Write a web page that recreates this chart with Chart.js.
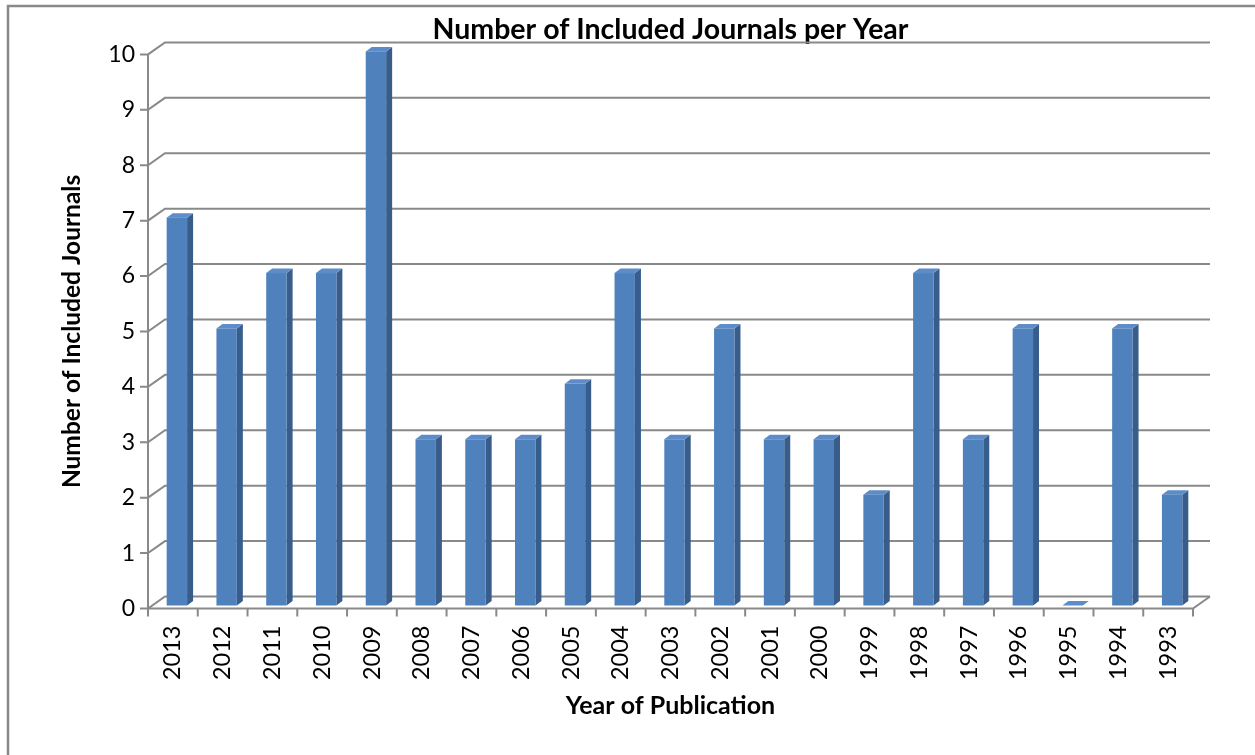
<!DOCTYPE html>
<html>
<head>
<meta charset="utf-8">
<script src="https://cdn.jsdelivr.net/npm/chart.js@4.4.1/dist/chart.umd.min.js"></script>
<style>
  html, body { margin: 0; padding: 0; background: #ffffff; }
  #wrap { width: 1255px; height: 755px; position: relative; }
</style>
</head>
<body>
<div id="wrap"><canvas id="chart"></canvas></div>
<script>
// Journals included per publication year (newest first)
const years = ['2013','2012','2011','2010','2009','2008','2007','2006','2005','2004','2003',
               '2002','2001','2000','1999','1998','1997','1996','1995','1994','1993'];
const journalCounts = [7, 5, 6, 6, 10, 3, 3, 3, 4, 6, 3, 5, 3, 3, 2, 6, 3, 5, 0, 5, 2];
const yTicks = [0, 1, 2, 3, 4, 5, 6, 7, 8, 9, 10];

const FONT = 'Lato, "Open Sans", sans-serif';
const GRID = '#898989';
// depth of the back wall relative to the front plane
const WALL_DX = 17, WALL_DY = 12;
// column placement inside the box and column depth
const COL_DX = 4, COL_DY = 3, COL_DEPTH_X = 6, COL_DEPTH_Y = 4.5;

// Outer frame, back wall gridlines, floor and axis ticks
const wallPlugin = {
  id: 'wall',
  beforeDraw(chart) {
    const ctx = chart.ctx;
    ctx.save();
    ctx.strokeStyle = GRID;
    ctx.lineWidth = 2.5;
    ctx.beginPath();
    ctx.moveTo(8, 755);
    ctx.lineTo(8, 6);
    ctx.lineTo(1255, 6);
    ctx.stroke();
    ctx.restore();
  },
  beforeDatasetsDraw(chart) {
    const ctx = chart.ctx;
    const {left, right} = chart.chartArea;
    const ys = chart.scales.y;
    ctx.save();
    ctx.strokeStyle = GRID;
    ctx.lineWidth = 2;
    ctx.lineJoin = 'miter';
    yTicks.forEach(v => {
      const y = ys.getPixelForValue(v);
      ctx.beginPath();
      ctx.moveTo(left - 8, y);
      ctx.lineTo(left, y);
      ctx.lineTo(left + WALL_DX, y - WALL_DY);
      ctx.lineTo(right + WALL_DX, y - WALL_DY);
      ctx.stroke();
    });
    // front edge of the floor and the right side of it
    const y0 = ys.getPixelForValue(0);
    ctx.beginPath();
    ctx.moveTo(left, y0);
    ctx.lineTo(right, y0);
    ctx.lineTo(right + WALL_DX, y0 - WALL_DY);
    ctx.stroke();
    // vertical axis line
    ctx.beginPath();
    ctx.moveTo(left, ys.getPixelForValue(10));
    ctx.lineTo(left, y0);
    ctx.stroke();
    // category tick marks between the columns
    const step = (right - left) / years.length;
    for (let k = 0; k <= years.length; k++) {
      const x = left + k * step;
      ctx.beginPath();
      ctx.moveTo(x, y0);
      ctx.lineTo(x, y0 + 8);
      ctx.stroke();
    }
    ctx.restore();
  },
  beforeDatasetDraw() {
    return false;
  },
  afterDatasetsDraw(chart) {
    const ctx = chart.ctx;
    const meta = chart.getDatasetMeta(0);
    ctx.save();
    meta.data.forEach(bar => {
      const {x, y, base, width} = bar.getProps(['x', 'y', 'base', 'width'], true);
      const l = x - width / 2 + COL_DX;
      const r = x + width / 2 + COL_DX;
      const t = y - COL_DY;
      const b = base - COL_DY;
      // right side face
      ctx.fillStyle = '#385d8a';
      ctx.beginPath();
      ctx.moveTo(r, t);
      ctx.lineTo(r + COL_DEPTH_X, t - COL_DEPTH_Y);
      ctx.lineTo(r + COL_DEPTH_X, b - COL_DEPTH_Y);
      ctx.lineTo(r, b);
      ctx.closePath();
      ctx.fill();
      // top face
      ctx.fillStyle = '#5d8cc8';
      ctx.beginPath();
      ctx.moveTo(l, t);
      ctx.lineTo(l + COL_DEPTH_X, t - COL_DEPTH_Y);
      ctx.lineTo(r + COL_DEPTH_X, t - COL_DEPTH_Y);
      ctx.lineTo(r, t);
      ctx.closePath();
      ctx.fill();
      // front face
      if (b - t > 0.5) {
        ctx.fillStyle = '#4f81bd';
        ctx.fillRect(l, t, r - l, b - t);
      }
    });
    ctx.restore();
  }
};

new Chart(document.getElementById('chart'), {
  type: 'bar',
  data: {
    labels: years,
    datasets: [{
      label: 'Number of Included Journals',
      data: journalCounts,
      backgroundColor: '#4f81bd',
      categoryPercentage: 1,
      barPercentage: 0.41
    }]
  },
  options: {
    responsive: true,
    maintainAspectRatio: false,
    animation: false,
    layout: { padding: { left: 0, right: 62, top: 0, bottom: 0 } },
    plugins: {
      legend: { display: false },
      tooltip: { enabled: false },
      title: {
        display: true,
        fullSize: false,
        text: 'Number of Included Journals per Year',
        color: '#000000',
        font: { family: FONT, size: 28.5, weight: 'bold', lineHeight: 1.2 },
        padding: { top: 13, bottom: 7.2 }
      }
    },
    scales: {
      x: {
        grid: { display: false, drawTicks: false },
        border: { display: false },
        ticks: {
          color: '#000000',
          font: { family: FONT, size: 23.5 },
          minRotation: 90,
          maxRotation: 90,
          padding: 17,
          autoSkip: false
        },
        title: {
          display: true,
          text: 'Year of Publication',
          color: '#000000',
          font: { family: FONT, size: 25, weight: 'bold', lineHeight: 1.2 },
          padding: { top: 0, bottom: 34 }
        },
        afterFit(scale) { scale.height = 146.5; }
      },
      y: {
        min: 0,
        max: 10,
        grid: { display: false, drawTicks: false },
        border: { display: false },
        ticks: {
          stepSize: 1,
          color: '#000000',
          font: { family: FONT, size: 23 },
          padding: 13
        },
        title: {
          display: true,
          text: 'Number of Included Journals',
          color: '#000000',
          font: { family: FONT, size: 24.5, weight: 'bold', lineHeight: 1.2 },
          padding: { top: 57, bottom: 0 }
        },
        afterFit(scale) { scale.width = 148; }
      }
    }
  },
  plugins: [wallPlugin]
});
</script>
</body>
</html>
